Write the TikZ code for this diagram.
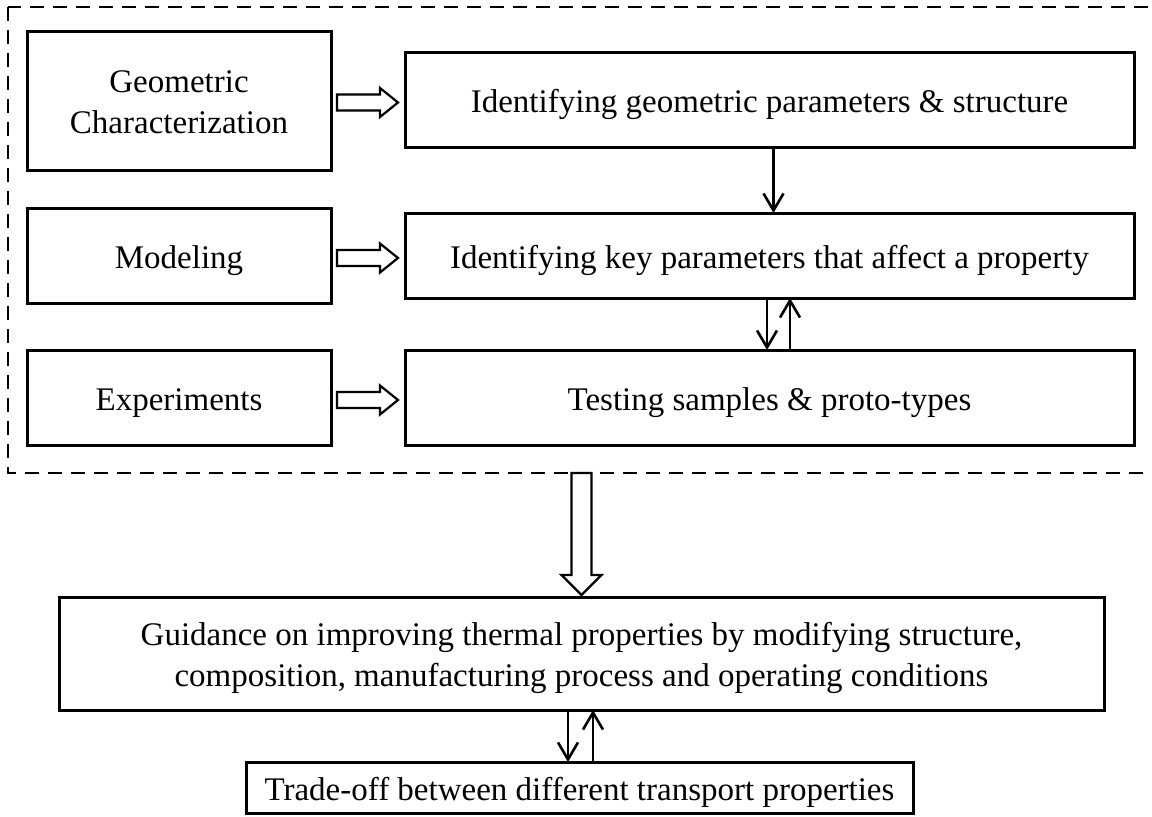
\documentclass[tikz,border=0pt]{standalone}
\usepackage{fontspec}
\setmainfont{Liberation Serif}
\usetikzlibrary{calc,arrows.meta}
\newcommand\lowtext[1]{\raisebox{-2.25pt}[\height][\depth]{\begin{tabular}{@{}c@{}}#1\end{tabular}}}
\begin{document}
\begin{tikzpicture}[x=0.5pt,y=-0.5pt,
  box/.style={draw,line width=1.5pt,rectangle,inner sep=0pt,outer sep=0pt,
    font=\fontsize{16.5}{20.5}\selectfont},
  leftbox/.style={box,minimum width=152pt,minimum height=47.5pt},
  rightbox/.style={box,minimum width=364.5pt,minimum height=47.5pt},
  arr/.style={line width=1.3pt,-{Straight Barb[length=8.5pt,width=10pt,line width=1.3pt]}},
  hollow/.style={draw,line width=1.1pt,fill=white,line join=miter},
  frame/.style={draw,line width=1.4pt,dash pattern=on 7pt off 4.5pt}]
\useasboundingbox (0,0) rectangle (1152,816);
\clip (0,0) rectangle (1152,816);
\fill[white] (0,0) rectangle (1152,816);
% dashed frame
\draw[frame] (8,7) rectangle (1170,473);
\coordinate (frameS) at (581.5,473);
% left column
\node[leftbox,minimum height=69.5pt] (geo) at (179,100.5) {\lowtext{Geometric\\Characterization}};
\node[leftbox] (mod) at (179,255.5) {\lowtext{Modeling}};
\node[leftbox] (exp) at (179,397.5) {\lowtext{Experiments}};
% right column
\node[rightbox] (idg) at (769.5,99.5) {\lowtext{Identifying geometric parameters \& structure}};
\node[rightbox,minimum height=42.5pt] (idk) at (769.5,255.5) {\lowtext{Identifying key parameters that affect a property}};
\node[rightbox] (test) at (769.5,397.5) {\lowtext{Testing samples \& proto-types}};
% bottom
\node[box,minimum width=522.5pt,minimum height=56.5pt] (guid) at (581.5,653.5)
  {\lowtext{Guidance on improving thermal properties by modifying structure,\\composition, manufacturing process and operating conditions}};
\node[box,minimum width=333.5pt,minimum height=25.5pt] (trade) at (579.5,787.5)
  {\lowtext{Trade-off between different transport properties}};
% hollow horizontal arrows
\foreach \a/\b in {geo/idg,mod/idk,exp/test}{
  \coordinate (c) at ($($(\a.east)!0.5!(\b.west)$)+(0,2.5)$);
  \draw[hollow,shift={(c)}] (-31,-8) -- (12,-8) -- (12,-14.5) -- (30,0) -- (12,14.5) -- (12,8) -- (-31,8) -- cycle;
}
% hollow vertical arrow
\coordinate (v) at (frameS -| guid.north);
\draw[hollow,shift={(v)}] (-10,0) -- (10,0) -- (10,102) -- (20,102) -- (0,122) -- (-20,102) -- (-10,102) -- cycle;
% thin arrows
\draw[arr] ($(idg.south)+(4,0)$) -- ($(idk.north)+(4,0)$);
\draw[arr] ($(idk.south)+(-2.5,0)$) -- ($(test.north)+(-2.5,0)$);
\draw[arr] ($(test.north)+(20.5,0)$) -- ($(idk.south)+(20.5,0)$);
\draw[arr] ($(guid.south)+(-13.5,0)$) -- ($(trade.north)+(-11.5,0)$);
\draw[arr] ($(trade.north)+(13.5,0)$) -- ($(guid.south)+(11.5,0)$);
\end{tikzpicture}
\end{document}
